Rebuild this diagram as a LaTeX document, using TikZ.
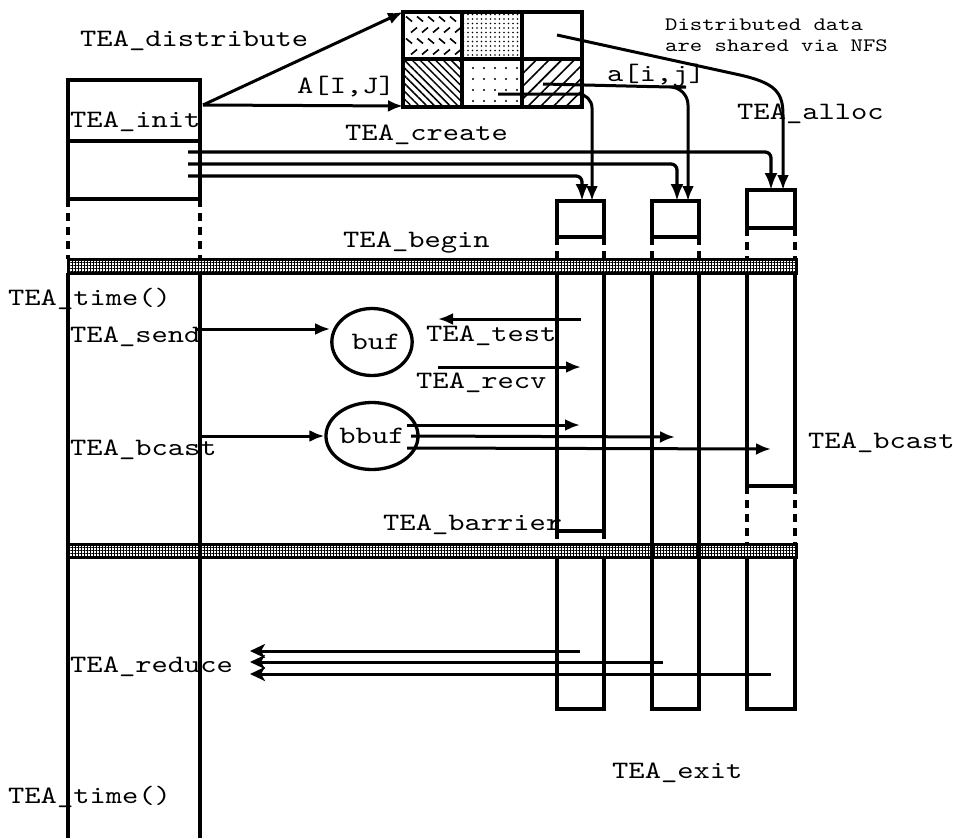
\documentclass[tikz,border=0pt]{standalone}
\usepackage{fontspec}
\setmonofont{lmmono10-regular}[Extension=.otf, FakeStretch=1.24]
\usetikzlibrary{arrows.meta,patterns.meta,shapes.geometric}
\begin{document}
\begin{tikzpicture}[x=1pt,y=-1pt, line join=miter,
  thickline/.style={line width=3.3pt},
  conn/.style={line width=3pt, -{Latex[length=15pt,width=12pt]}},
  redarrow/.style={line width=3pt, -{Stealth[length=15pt,width=14pt,inset=4pt]}},
  dashline/.style={line width=3.3pt, dash pattern=on 8pt off 6pt},
  band/.style={draw, line width=3pt, pattern={Hatch[distance=3pt,line width=0.9pt]}},
  lbl/.style={anchor=base west, inner sep=0pt, font=\ttfamily\fontsize{25}{30}\selectfont},
  small/.style={anchor=base west, inner sep=0pt, font=\ttfamily\fontsize{19}{24}\selectfont},
  bufnode/.style={ellipse, draw, line width=3.3pt, minimum width=80pt, minimum height=67pt, inner sep=0pt, font=\ttfamily\fontsize{25}{30}\selectfont}
]
\useasboundingbox (0,0) rectangle (953,838);

% ---------- grid of distributed array ----------
\coordinate (gTL) at (403,12);
\coordinate (gBL) at (403,106);
\foreach \i in {0,...,4}{
  \foreach \j in {0,...,3}{
    \pgfmathtruncatemacro\s{mod(\j,2)}
    \ifnum\s=0
      \draw[line width=1.6pt] ({409+11*\i-3},{19+11*\j-2.5}) -- ({409+11*\i+3},{19+11*\j+2.5});
    \else
      \draw[line width=1.6pt] ({414+11*\i-3},{19+11*\j+2.5}) -- ({414+11*\i+3},{19+11*\j-2.5});
    \fi
  }
}
\fill[pattern={Dots[distance=4.5pt,radius=0.9pt]}] (462,12) rectangle (522,59);
\fill[pattern={Lines[angle=-45,distance=5.5pt,line width=1.5pt]}] (403,59) rectangle (462,107);
\fill[pattern={Dots[distance=11pt,radius=1.1pt]}] (462,59) rectangle (522,107);
\fill[pattern={Lines[angle=45,distance=9pt,line width=1.6pt]}] (522,59) rectangle (582,107);
\draw[thickline] (403,12) rectangle (582,107);
\draw[thickline] (462,12) -- (462,107);
\draw[thickline] (522,12) -- (522,107);
\draw[thickline] (403,59) -- (582,59);

% ---------- left column ----------
\draw[thickline] (68,80) rectangle (200,199);
\draw[thickline] (68,141) -- (200,141);
\draw[dashline] (68,199) -- (68,259);
\draw[dashline] (200,199) -- (200,259);
\draw[thickline] (68,273) -- (68,838);
\draw[thickline] (200,273) -- (200,838);

% ---------- right columns ----------
\coordinate (c1top) at (582,201);
\coordinate (c1topb) at (592,201);
\coordinate (c2top) at (677,201);
\coordinate (c2topb) at (688,201);
\coordinate (c3top) at (771,190);
\coordinate (c3topb) at (783,190);
\draw[thickline] (557,237) -- (557,201) -- (604,201) -- (604,237) -- cycle;
\draw[thickline] (652,237) -- (652,201) -- (699,201) -- (699,237) -- cycle;
\draw[thickline] (747,228) -- (747,190) -- (795,190) -- (795,228) -- cycle;
\foreach \x/\y in {557/237,604/237,652/237,699/237,747/228,795/228}
  \draw[dashline] (\x,\y) -- (\x,259);
\draw[thickline] (557,273) -- (557,531) -- (604,531) -- (604,273);
\draw[thickline] (652,273) -- (652,709) -- (699,709) -- (699,273);
\draw[thickline] (747,273) -- (747,486) -- (795,486) -- (795,273);
\foreach \x/\y in {557/531,604/531,747/486,795/486}
  \draw[dashline] (\x,\y) -- (\x,544);
\draw[thickline] (557,557) -- (557,709) -- (604,709) -- (604,557);
\draw[thickline] (747,557) -- (747,709) -- (795,709) -- (795,557);

% ---------- barrier bands ----------
\draw[band] (68,259) rectangle (796,273);
\draw[band] (68,544) rectangle (796,557);

% ---------- TEA_distribute ----------
\coordinate (initR) at (203,105);
\draw[conn] (initR) -- (gTL);
\draw[conn] (initR) -- (gBL);

% ---------- TEA_create ----------
\coordinate (cr1) at (188,176);
\coordinate (cr2) at (188,164);
\coordinate (cr3) at (188,152);
\draw[conn, line width=3.3pt, -{Latex[length=17pt,width=13pt]}, rounded corners=6pt] (cr1) -| (c1top);
\draw[conn, line width=3.3pt, -{Latex[length=17pt,width=13pt]}, rounded corners=6pt] (cr2) -| (c2top);
\draw[conn, line width=3.3pt, -{Latex[length=17pt,width=13pt]}, rounded corners=6pt] (cr3) -| (c3top);

% ---------- from grid to processes ----------
\coordinate (gE) at (498,94);
\coordinate (gF) at (543,84);
\coordinate (gC) at (557,35);
\draw[conn, rounded corners=14pt] (gE) -| (c1topb);
\draw[conn, rounded corners=18pt] (gF) -- (668,87) -| (c2topb);
\draw[conn] (gC) -- (740,75) .. controls (775,83) and (783,92) .. (783,115) -- (c3topb);

% ---------- buffers ----------
\node[bufnode] (buf) at (372,342) {\hspace*{8pt}buf};
\node[bufnode] (bbuf) at (372,436) {bbuf};
\coordinate (sendS) at (195,329);
\draw[conn] (sendS) -- (sendS -| buf.west);
\coordinate (bcS) at (200,436);
\draw[conn] (bcS) -- (bbuf.west);
\coordinate (testS) at (581,319);
\coordinate (testE) at (438,319);
\draw[conn] (testS) -- (testE);
\coordinate (recvS) at (438,367);
\coordinate (recvE) at (581,367);
\draw[conn] (recvS) -- (recvE);
\coordinate (bo1) at (407,425);
\coordinate (bo2) at (411,436);
\coordinate (bo3) at (407,448);
\coordinate (bt1) at (580,425);
\coordinate (bt2) at (675,437);
\coordinate (bt3) at (771,449);
\draw[conn] (bo1) -- (bt1);
\draw[conn] (bo2) -- (bt2);
\draw[conn] (bo3) -- (bt3);

% ---------- reduce ----------
\coordinate (rd) at (250,0);
\coordinate (rs1) at (580,651);
\coordinate (rs2) at (663,662);
\coordinate (rs3) at (771,674);
\draw[redarrow] (rs1) -- (rs1 -| rd);
\draw[redarrow] (rs2) -- (rs2 -| rd);
\draw[redarrow] (rs3) -- (rs3 -| rd);

% ---------- labels ----------
\node[lbl] (tdist) at (80,46) {TEA\_distribute};
\node[lbl] (tAIJ) at (297,93) {A[I,J]};
\node[lbl] (tcreate) at (345,140) {TEA\_create};
\node[lbl] (tinit) at (70,127) {TEA\_init};
\node[lbl] (taij) at (607,81) {a[i,j]};
\node[lbl] (talloc) at (737,119) {TEA\_alloc};
\node[small] (tnfs1) at (665,30) {Distributed data};
\node[small] (tnfs2) at (665,51) {are shared via NFS};
\node[lbl] (tbegin) at (343,247) {TEA\_begin};
\node[lbl] (ttime1) at (8,305) {TEA\_time()};
\node[lbl] (tsend) at (70,342) {TEA\_send};
\node[lbl] (ttest) at (426,341) {TEA\_test};
\node[lbl] (trecv) at (416,388) {TEA\_recv};
\node[lbl] (tbcastL) at (70,455) {TEA\_bcast};
\node[lbl] (tbcastR) at (808,448) {TEA\_bcast};
\node[lbl] (tbarrier) at (383,530) {TEA\_barrier};
\node[lbl] (treduce) at (70,672) {TEA\_reduce};
\node[lbl] (texit) at (612,778) {TEA\_exit};
\node[lbl] (ttime2) at (8,803) {TEA\_time()};
\end{tikzpicture}
\end{document}
